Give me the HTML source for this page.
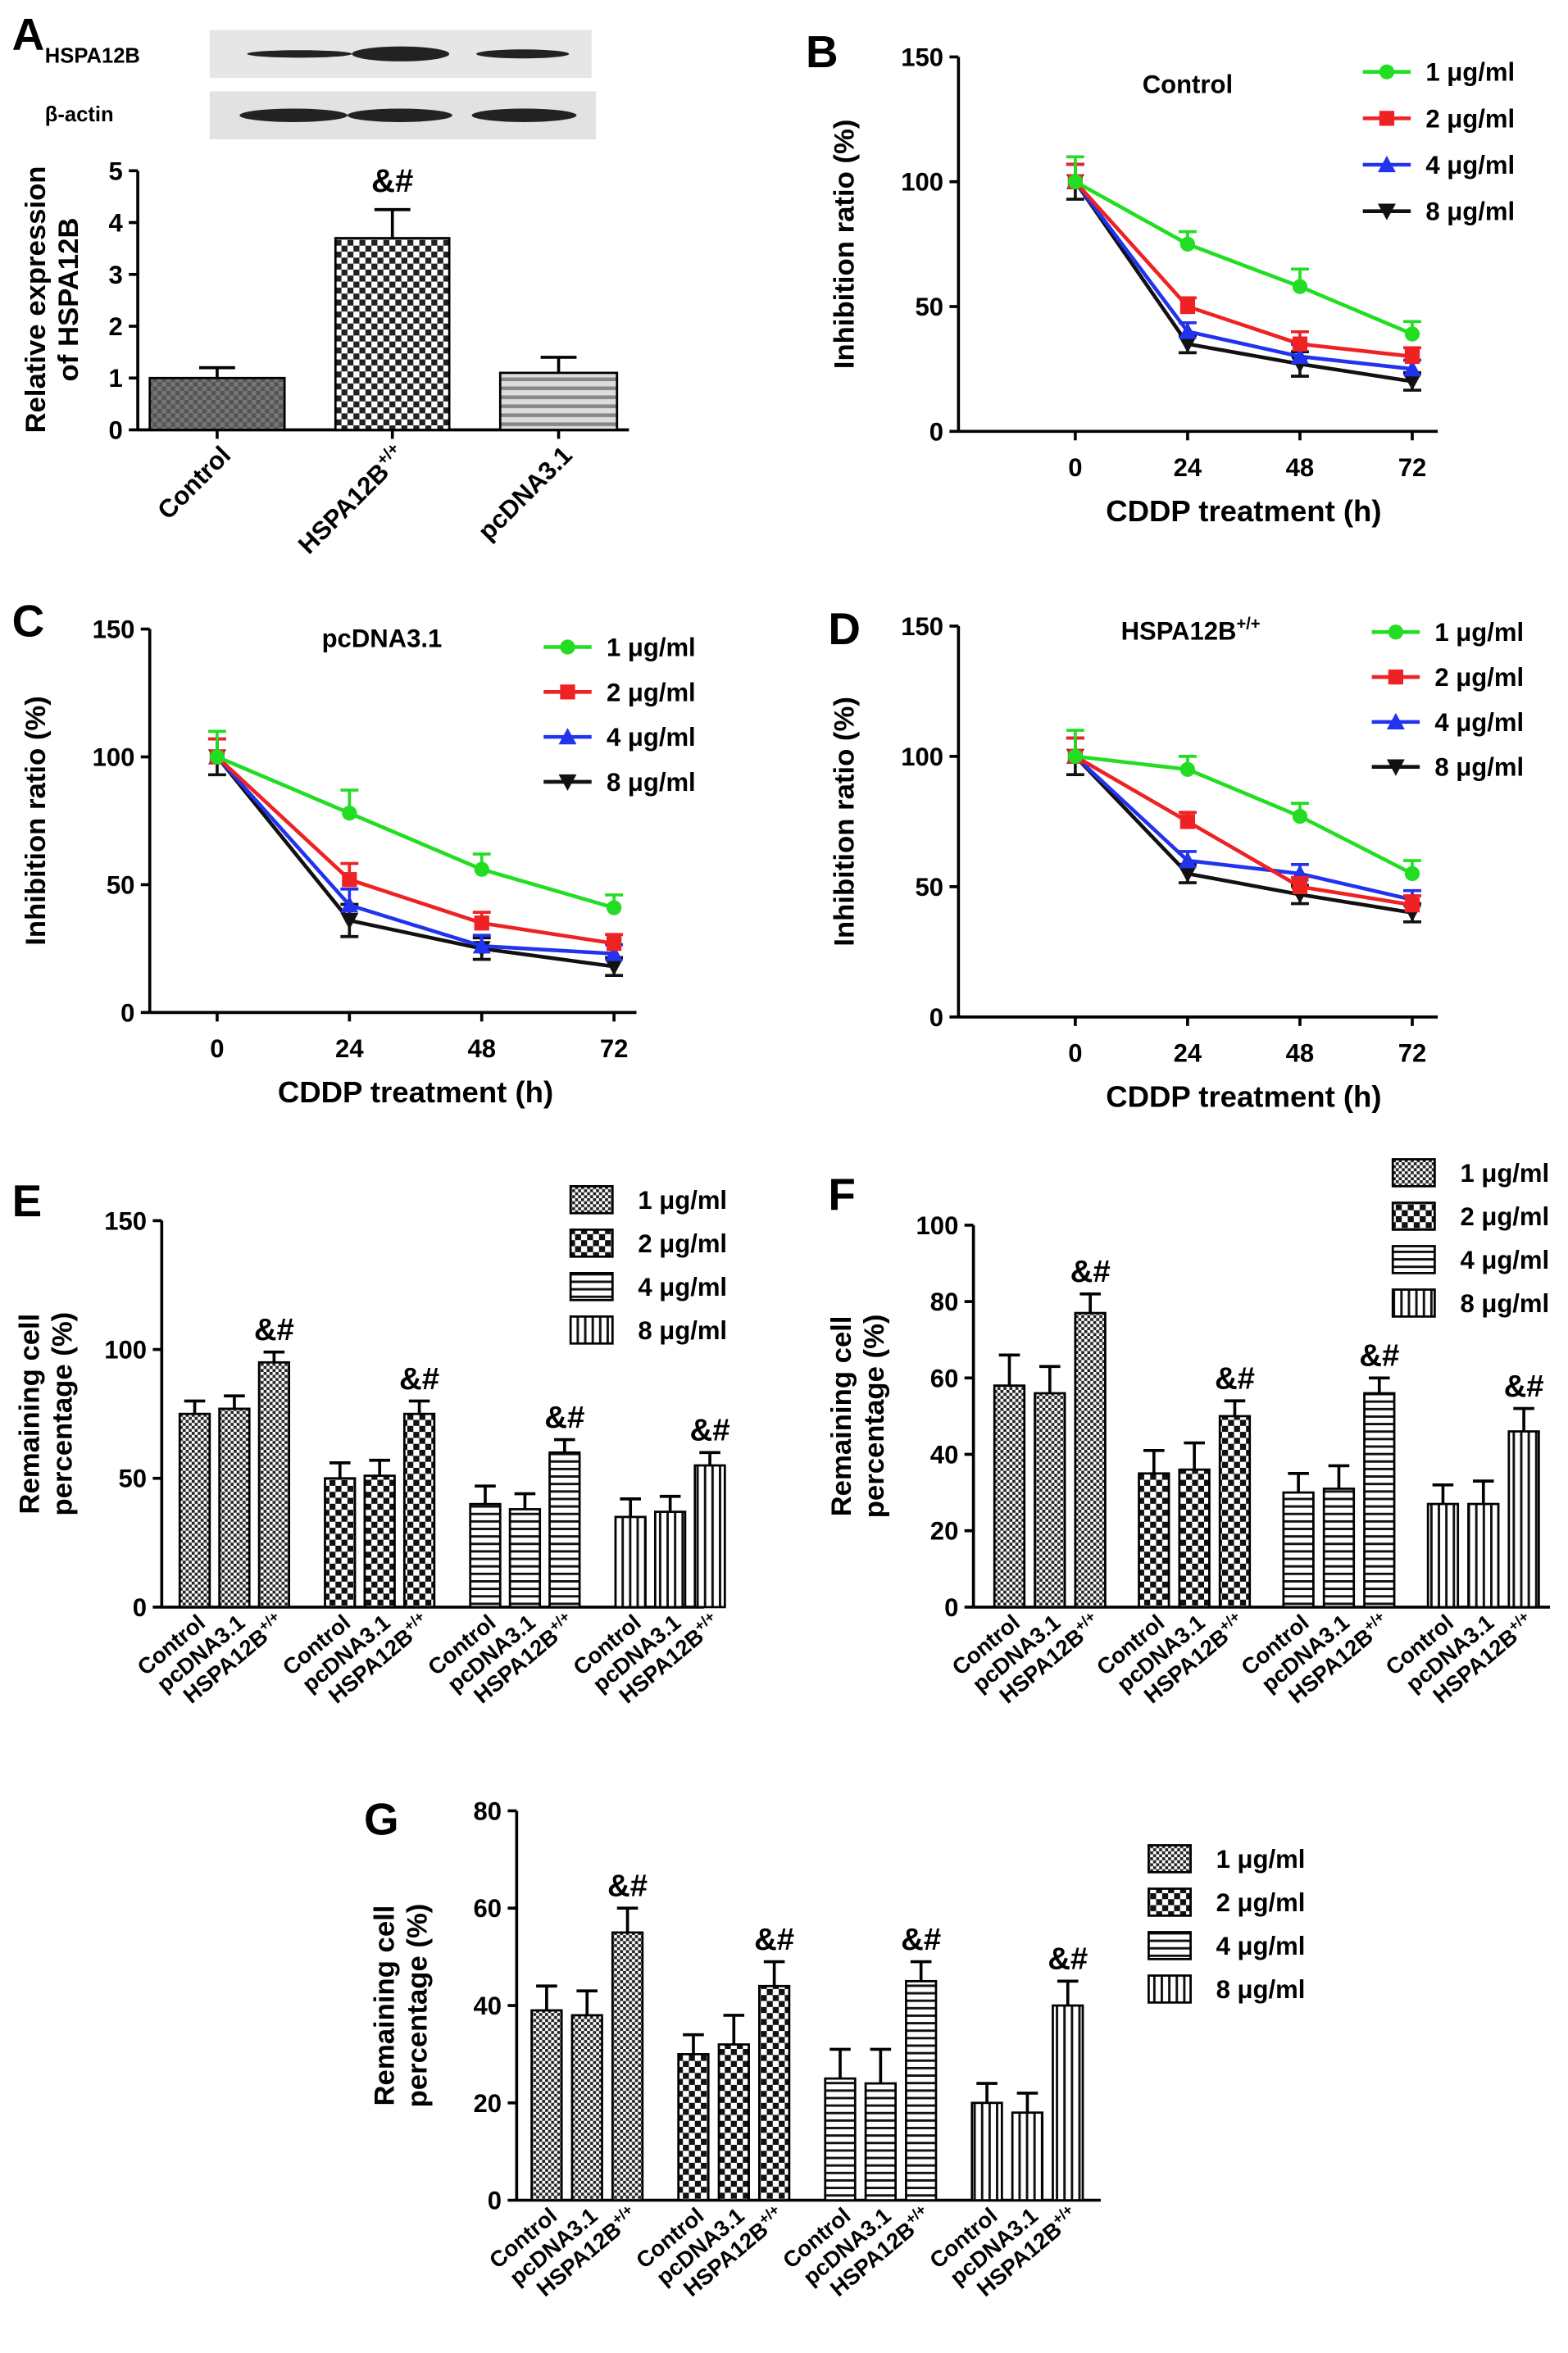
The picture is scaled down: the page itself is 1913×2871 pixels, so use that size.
<!DOCTYPE html>
<html><head><meta charset="utf-8"><style>
html,body{margin:0;padding:0;background:#fff}
svg{display:block}
text{font-family:"Liberation Sans",Arial,sans-serif;font-weight:bold;fill:#000}
</style></head><body>
<svg id="fig" width="1913" height="2871" viewBox="0 0 1047 1571" preserveAspectRatio="none" xmlns="http://www.w3.org/2000/svg">
<defs>
<pattern id="p1" width="4" height="4" patternUnits="userSpaceOnUse"><rect width="4" height="4" fill="#fff"/><rect width="2" height="2" fill="#222"/><rect x="2" y="2" width="2" height="2" fill="#222"/></pattern>
<pattern id="p2" width="8" height="8" patternUnits="userSpaceOnUse"><rect width="8" height="8" fill="#fff"/><rect width="4" height="4" fill="#111"/><rect x="4" y="4" width="4" height="4" fill="#111"/></pattern>
<pattern id="p3" width="6" height="5" patternUnits="userSpaceOnUse"><rect width="6" height="5" fill="#fff"/><rect width="6" height="1.6" fill="#111"/></pattern>
<pattern id="p4" width="5" height="6" patternUnits="userSpaceOnUse"><rect width="5" height="6" fill="#fff"/><rect width="1.6" height="6" fill="#111"/></pattern>
<pattern id="pc" width="6" height="6" patternUnits="userSpaceOnUse"><rect width="6" height="6" fill="#777"/><rect width="3" height="3" fill="#555"/><rect x="3" y="3" width="3" height="3" fill="#555"/></pattern>
<pattern id="ph" width="8" height="8" patternUnits="userSpaceOnUse"><rect width="8" height="8" fill="#fff"/><rect width="4" height="4" fill="#222"/><rect x="4" y="4" width="4" height="4" fill="#222"/></pattern>
<pattern id="pp" width="6" height="6" patternUnits="userSpaceOnUse"><rect width="6" height="6" fill="#ddd"/><rect width="6" height="2.5" fill="#888"/></pattern>
</defs>
</svg>
<script>
// ---------- DATA ----------
const aCats=["Control","HSPA12B+/+","pcDNA3.1"];
const aVals=[1.0,3.7,1.1];
const aErr=[0.2,0.55,0.3];
const aTicks=[0,1,2,3,4,5];

const lineX=[0,24,48,72];
const lineTicksY=[0,50,100,150];
const doses=["1 μg/ml","2 μg/ml","4 μg/ml","8 μg/ml"];
const bS1=[100,75,58,39], bS2=[100,50,35,30], bS3=[100,40,30,25], bS4=[100,35,27,20];
const bE=[10,5,7,5];
const cS1=[100,78,56,41], cS2=[100,52,35,27], cS3=[100,42,26,23], cS4=[100,36,25,18];
const cE=[10,9,6,5];
const dS1=[100,95,77,55], dS2=[100,75,50,43], dS3=[100,60,55,45], dS4=[100,55,47,40];
const dE=[10,5,5,5];

const barCats=["Control","pcDNA3.1","HSPA12B"];
const eVals=[[75,77,95],[50,51,75],[40,38,60],[35,37,55]];
const eErr=[[5,5,4],[6,6,5],[7,6,5],[7,6,5]];
const eTicks=[0,50,100,150];
const fVals=[[58,56,77],[35,36,50],[30,31,56],[27,27,46]];
const fErr=[[8,7,5],[6,7,4],[5,6,4],[5,6,6]];
const fTicks=[0,20,40,60,80,100];
const gVals=[[39,38,55],[30,32,44],[25,24,45],[20,18,40]];
const gErr=[[5,5,5],[4,6,5],[6,7,4],[4,4,5]];
const gTicks=[0,20,40,60,80];

// ---------- HELPERS ----------
const svg=document.getElementById('fig');
const NS="http://www.w3.org/2000/svg";
function mk(tag,attrs,parent){const e=document.createElementNS(NS,tag);for(const k in attrs)e.setAttribute(k,attrs[k]);(parent||svg).appendChild(e);return e;}
function txt(x,y,s,size,anchor,parent,rot){const t=mk('text',{x:x,y:y,'font-size':size,'text-anchor':anchor||'start'},parent);if(rot!==undefined)t.setAttribute('transform','rotate('+rot+' '+x+' '+y+')');t.textContent=s;return t;}
function grp(name){const g=mk('g',{});return g;}
function lin(x1,y1,x2,y2,g,w,c){return mk('line',{x1:x1,y1:y1,x2:x2,y2:y2,stroke:c||'#000','stroke-width':w||2},g);}

function yAxis(g,x,y0,y1,vmax,ticks,title,tx,ty,title2){
  const ys=v=>y0-(v/vmax)*(y0-y1);
  lin(x,y0,x,y1,g,2);
  ticks.forEach(t=>{lin(x-6,ys(t),x,ys(t),g,2);const l=txt(x-10,ys(t)+6,String(t),17,'end',g);});
  const t1=txt(tx,ty,title,19,'middle',g,-90);
  if(title2){const t2=txt(tx+22,ty,title2,19,'middle',g,-90);}
  return ys;
}
function panelLetter(s,x,y){const t=txt(x,y,s,30,'start');}

// ---------- PANEL A ----------
panelLetter("A",8,33);
(function(){
  const g=grp('panel-a');
  const blot=grp('western-blot');
  mk('rect',{x:140,y:20,width:255,height:32,fill:'#e6e6e6'},blot);
  mk('rect',{x:140,y:61,width:258,height:32,fill:'#e2e2e2'},blot);
  txt(30,42,"HSPA12B",14,'start',blot);
  txt(30,81,"β-actin",14,'start',blot);
  [[165,70,2.5],[235,65,5],[318,62,3]].forEach(b=>mk('ellipse',{cx:b[0]+b[1]/2,cy:36,rx:b[1]/2,ry:b[2],fill:'#222'},blot));
  [[160,72],[232,70],[315,70]].forEach(b=>mk('ellipse',{cx:b[0]+b[1]/2,cy:77,rx:b[1]/2,ry:4.5,fill:'#222'},blot));
  const ys=yAxis(g,92,287,114,5,aTicks,"Relative expression",30,200,"of  HSPA12B");
  lin(92,287,420,287,g,2);
  const xs=[145,262,373], ws=[90,76,78], fills=['url(#pc)','url(#ph)','url(#pp)'];
  aVals.forEach((v,i)=>{
    const r=mk('rect',{x:xs[i]-ws[i]/2,y:ys(v),width:ws[i],height:287-ys(v),fill:fills[i],stroke:'#000','stroke-width':1.5},g);
    
    
    lin(xs[i],ys(v),xs[i],ys(v+aErr[i]),g,2);lin(xs[i]-12,ys(v+aErr[i]),xs[i]+12,ys(v+aErr[i]),g,2);
    lin(xs[i],287,xs[i],293,g,2);
    const lab=txt(xs[i]+10,305,aCats[i].replace('+/+',''),17,'end',g,-45);
    if(i==1){const s=mk('tspan',{'font-size':11,dy:-7},lab);s.textContent='+/+';}
    
  });
  const m=txt(262,ys(4.25)-12,"&#",22,'middle',g);
})();

// ---------- LINE PANELS ----------
const colors=['#22dd22','#ee2222','#2233ee','#111111'];
const markers=['circle','square','tri','tridown'];
function marker(type,x,y,c,g){
  if(type=='circle')return mk('circle',{cx:x,cy:y,r:5,fill:c},g);
  if(type=='square')return mk('rect',{x:x-5,y:y-5,width:10,height:10,fill:c},g);
  if(type=='tri')return mk('polygon',{points:(x-6)+','+(y+5)+' '+(x+6)+','+(y+5)+' '+x+','+(y-6),fill:c},g);
  return mk('polygon',{points:(x-6)+','+(y-5)+' '+(x+6)+','+(y-5)+' '+x+','+(y+6),fill:c},g);
}
function linePanel(name,P,series,errs){
  const g=grp(name);
  const ys=yAxis(g,P.ax,P.y0,P.y1,150,lineTicksY,"Inhibition ratio (%)",P.ax-70,(P.y0+P.y1)/2);
  const xs=v=>P.x0+(v/72)*(P.x72-P.x0);
  lin(P.ax,P.y0,P.xe,P.y0,g,2);
  lineX.forEach(t=>{lin(xs(t),P.y0,xs(t),P.y0+6,g,2);const l=txt(xs(t),P.y0+30,String(t),17,'middle',g);});
  const xt=txt((P.x0+P.x72)/2,P.y0+60,"CDDP treatment (h)",20,'middle',g);
  const tt=txt(P.tx,P.ty,P.title,17,'middle',g);
  if(P.sup){const s=mk('tspan',{'font-size':11,dy:-7},tt);s.textContent='+/+';}
  for(let k=series.length-1;k>=0;k--){
    const s=series[k];const sg=grp('series-'+(k+1)+'ugml');g.appendChild(sg);
    const pts=s.map((v,i)=>xs(lineX[i])+','+ys(v)).join(' ');
    const pl=mk('polyline',{points:pts,fill:'none',stroke:colors[k],'stroke-width':2.5},sg);
    
    s.forEach((v,i)=>{
      const e=errs[i]*(k==0?1:0.7);const x=xs(lineX[i]);
      lin(x,ys(v),x,ys(v+e),sg,2,colors[k]);lin(x-6,ys(v+e),x+6,ys(v+e),sg,2,colors[k]);
      if(k==3){lin(x,ys(v),x,ys(v-e),sg,2,colors[k]);lin(x-6,ys(v-e),x+6,ys(v-e),sg,2,colors[k]);}
      const m=marker(markers[k],x,ys(v),colors[k],sg);
    });
  }
  const lg=grp('legend');g.appendChild(lg);
  doses.forEach((d,k)=>{
    const y=P.ly+k*P.lstep;
    const e=grp('legend-entry');lg.appendChild(e);
    lin(P.lx,y,P.lx+32,y,e,2.5,colors[k]);marker(markers[k],P.lx+16,y,colors[k],e);
    txt(P.lx+42,y+6,d,17,'start',e);
  });
}
panelLetter("B",538,45);
linePanel('panel-b',{ax:640,y0:288,y1:38,x0:718,x72:943,xe:960,tx:793,ty:62,title:"Control",lx:910,ly:48,lstep:31},[bS1,bS2,bS3,bS4],bE);
panelLetter("C",8,425);
linePanel('panel-c',{ax:100,y0:676,y1:420,x0:145,x72:410,xe:425,tx:255,ty:432,title:"pcDNA3.1",lx:363,ly:432,lstep:30},[cS1,cS2,cS3,cS4],cE);
panelLetter("D",553,430);
linePanel('panel-d',{ax:640,y0:679,y1:418,x0:718,x72:943,xe:960,tx:795,ty:427,title:"HSPA12B",sup:true,lx:916,ly:422,lstep:30},[dS1,dS2,dS3,dS4],dE);

// ---------- BAR PANELS ----------
const pats=['url(#p1)','url(#p2)','url(#p3)','url(#p4)'];
function barPanel(name,P,vals,errs,ticks,vmax){
  const g=grp(name);
  const ys=yAxis(g,P.ax,P.y0,P.y1,vmax,ticks,"Remaining cell",P.ax-82,(P.y0+P.y1)/2,"percentage (%)");
  lin(P.ax,P.y0,P.xe,P.y0,g,2);
  const bw=20;
  vals.forEach((grpv,gi)=>{
    grpv.forEach((v,bi)=>{
      const x=P.g0+gi*P.gs+bi*P.bs;
      const r=mk('rect',{x:x-bw/2,y:ys(v),width:bw,height:P.y0-ys(v),fill:pats[gi],stroke:'#000','stroke-width':1.5},g);
      
      
      const e=errs[gi][bi];
      lin(x,ys(v),x,ys(v+e),g,2);lin(x-7,ys(v+e),x+7,ys(v+e),g,2);
      const lab=txt(x+8,P.y0+12,barCats[bi],15,'end',g,-40);
      if(bi==2){const s=mk('tspan',{'font-size':10,dy:-6},lab);s.textContent='+/+';}
      
      if(bi==2){const m=txt(x,ys(v+e)-8,"&#",21,'middle',g);}
    });
  });
  const lg=grp('legend');g.appendChild(lg);
  doses.forEach((d,k)=>{
    const y=P.ly+k*P.lstep;
    const e=grp('legend-entry');lg.appendChild(e);
    mk('rect',{x:P.lx,y:y-9,width:28,height:18,fill:pats[k],stroke:'#000','stroke-width':1.5},e);
    txt(P.lx+45,y+6,d,17,'start',e);
  });
}
panelLetter("E",8,812);
barPanel('panel-e',{ax:108,y0:1073,y1:815,xe:470,g0:130,gs:97,bs:26.5,lx:381,ly:801,lstep:29},eVals,eErr,eTicks,150);
panelLetter("F",553,808);
barPanel('panel-f',{ax:650,y0:1073,y1:818,xe:1035,g0:674,gs:96.5,bs:27,lx:930,ly:783,lstep:29},fVals,fErr,fTicks,100);
panelLetter("G",243,1225);
barPanel('panel-g',{ax:345,y0:1469,y1:1209,xe:735,g0:365,gs:98,bs:27,lx:767,ly:1241,lstep:29},gVals,gErr,gTicks,80);
</script>
</body></html>
